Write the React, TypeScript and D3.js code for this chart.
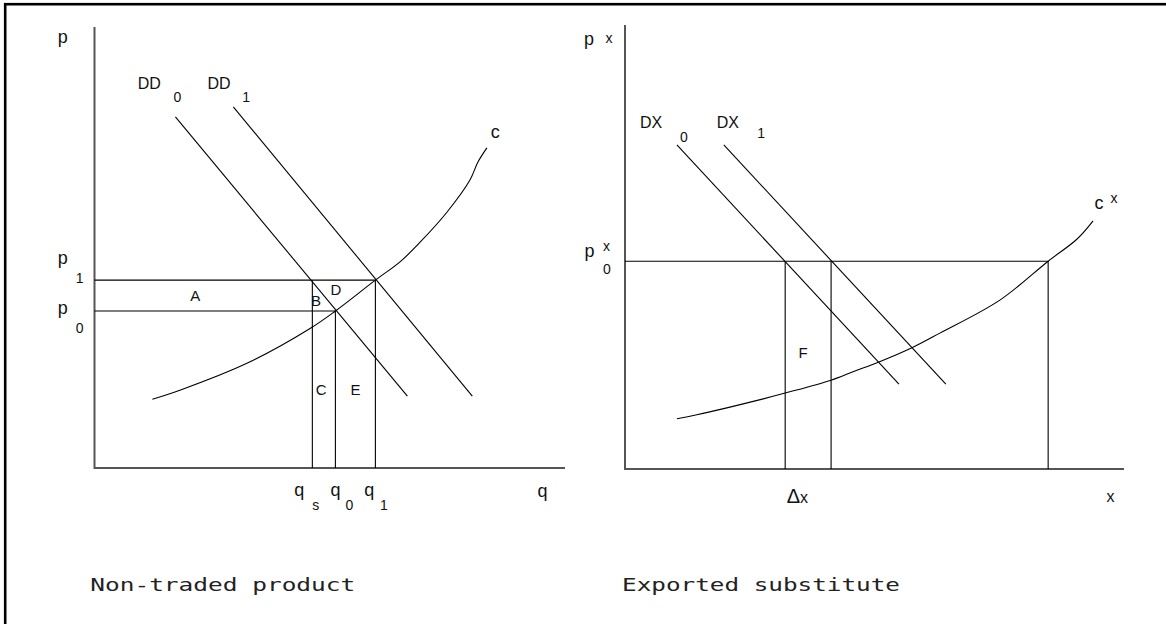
import React from "react";
import * as d3 from "d3";

// ---------- Left panel: non-traded product ----------
const ddNames = ["DD", "DD"];
const ddSubs = ["0", "1"];
const dd0: [number, number][] = [[17.2, 79.6], [66.5, 16.3]];
const dd1: [number, number][] = [[29.5, 81.9], [80.3, 16.3]];
const supplyC: [number, number][] = [
  [12.3, 15.6], [18.3, 17.7], [32.5, 23.8], [45.9, 31.7], [51.2, 35.6],
  [59.7, 42.6], [65.0, 46.8], [69.2, 51.2], [74.9, 58.0], [79.8, 65.3],
  [81.5, 69.4], [83.4, 72.6],
];
const pLevels = [35.6, 42.6]; // p0, p1
const qLevels = [46.3, 51.2, 59.7]; // qs, q0, q1
const qSubs = ["s", "0", "1"];
const qLabelX = [43.5, 51.2, 58.4];
const qSubX = [47.0, 54.2, 61.5];
const areaLabelsLeft: [string, number, number][] = [
  ["A", 21.4, 37.9], ["B", 47.1, 36.7], ["D", 51.3, 39.2], ["C", 48.2, 16.6], ["E", 55.5, 16.6],
];

// ---------- Right panel: exported substitute ----------
const dxNames = ["DX", "DX"];
const dx0: [number, number][] = [[10.4, 73.0], [54.9, 19.1]];
const dx1: [number, number][] = [[19.8, 73.0], [64.3, 19.1]];
const supplyCx: [number, number][] = [
  [10.4, 11.3], [14.4, 12.2], [27.7, 15.8], [32.1, 17.1], [41.3, 20.0],
  [45.7, 21.9], [50.9, 24.1], [57.5, 27.3], [63.1, 30.6], [75.2, 38.1],
  [84.8, 46.8], [90.6, 51.8], [93.8, 55.9],
];
const pxLevel = 46.8;
const xLevels = [32.1, 41.3, 84.8];

const titles = ["Non-traded product", "Exported substitute"];
const titleWidths = [265, 278];

const W = 1166;
const H = 624;
const LBL = "'Liberation Sans', Arial, sans-serif";
const MONO = "'DejaVu Sans Mono', monospace";

export default function App() {
  const line = (x: any, y: any) =>
    d3.line<[number, number]>().x((d) => x(d[0])).y((d) => y(d[1]));
  const curve = (x: any, y: any) =>
    d3.line<[number, number]>().x((d) => x(d[0])).y((d) => y(d[1])).curve(d3.curveCatmullRom.alpha(0.5));

  const xl = d3.scaleLinear().domain([0, 100]).range([94.5, 565]);
  const yl = d3.scaleLinear().domain([0, 100]).range([468, 27]);
  const xr = d3.scaleLinear().domain([0, 100]).range([625, 1124]);
  const yr = d3.scaleLinear().domain([0, 100]).range([469, 25]);
  const Ll = line(xl, yl);
  const Lr = line(xr, yr);
  const Cl = curve(xl, yl);
  const Cr = curve(xr, yr);

  const axisStyle = { stroke: "#555", strokeWidth: 2, fill: "none" };
  const thin = { stroke: "#000", strokeWidth: 1.1, fill: "none" };
  const cap = { fontFamily: LBL, fontSize: 16, fill: "#111" } as any;
  const low = { fontFamily: LBL, fontSize: 18, fill: "#111" } as any;
  const sub = { fontFamily: LBL, fontSize: 14, fill: "#111" } as any;

  return (
    <svg
      width={W}
      height={H}
      style={{ position: "absolute", left: 0, top: 0, background: "#fff" }}
    >
      <rect x={5.2} y={4.2} width={W + 50} height={H + 50} fill="none" stroke="#000" strokeWidth={2.6} />

      {/* ----- Left panel ----- */}
      <path d={Ll([[0, 100], [0, 0], [100, 0]]) as string} {...axisStyle} />
      <path d={Ll(dd0) as string} {...thin} />
      <path d={Ll(dd1) as string} {...thin} />
      <path d={Cl(supplyC) as string} {...thin} />
      <path d={Ll([[0, pLevels[1]], [qLevels[2], pLevels[1]]]) as string} {...thin} />
      <path d={Ll([[0, pLevels[0]], [qLevels[1], pLevels[0]]]) as string} {...thin} />
      <path d={Ll([[qLevels[0], 0], [qLevels[0], pLevels[1]]]) as string} {...thin} />
      <path d={Ll([[qLevels[1], 0], [qLevels[1], pLevels[0]]]) as string} {...thin} />
      <path d={Ll([[qLevels[2], 0], [qLevels[2], pLevels[1]]]) as string} {...thin} />

      <text x={xl(-7.8)} y={yl(96.3)} {...low}>p</text>
      {ddNames.map((n, i) => (
        <g key={"dd" + i}>
          <text x={xl(i === 0 ? 9.2 : 24.0)} y={yl(85.9)} {...cap}>{n}</text>
          <text x={xl(i === 0 ? 16.8 : 31.4)} y={yl(83.1)} {...sub}>{ddSubs[i]}</text>
        </g>
      ))}
      <text x={xl(84.2)} y={yl(74.8)} {...low}>c</text>
      <text x={xl(-7.8)} y={yl(46.2)} {...low}>p</text>
      <text x={xl(-4.0)} y={yl(41.9)} {...sub}>1</text>
      <text x={xl(-7.8)} y={yl(34.9)} {...low}>p</text>
      <text x={xl(-4.0)} y={yl(30.6)} {...sub}>0</text>
      {areaLabelsLeft.map(([t, a, b]) => (
        <text key={t} x={xl(a)} y={yl(b)} {...cap} fontSize={15} textAnchor="middle">{t}</text>
      ))}
      {qLevels.map((q, i) => (
        <g key={"q" + i}>
          <text x={xl(qLabelX[i])} y={yl(-6.35)} {...low} textAnchor="middle">q</text>
          <text x={xl(qSubX[i])} y={yl(-9.5)} {...sub} textAnchor="middle">{qSubs[i]}</text>
        </g>
      ))}
      <text x={xl(95.2)} y={yl(-6.6)} {...low} textAnchor="middle">q</text>

      {/* ----- Right panel ----- */}
      <path d={Lr([[0, 100], [0, 0], [100, 0]]) as string} {...axisStyle} />
      <path d={Lr(dx0) as string} {...thin} />
      <path d={Lr(dx1) as string} {...thin} />
      <path d={Cr(supplyCx) as string} {...thin} />
      <path d={Lr([[0, pxLevel], [xLevels[2], pxLevel]]) as string} {...thin} />
      {xLevels.map((v, i) => (
        <path key={"xv" + i} d={Lr([[v, 0], [v, pxLevel]]) as string} {...thin} />
      ))}

      <text x={xr(-8.2)} y={yr(95.5)} {...low}>p</text>
      <text x={xr(-3.9)} y={yr(95.9)} {...sub}>x</text>
      {dxNames.map((n, i) => (
        <g key={"dx" + i}>
          <text x={xr(i === 0 ? 3.0 : 18.4)} y={yr(76.9)} {...cap}>{n}</text>
          <text x={xr(i === 0 ? 11.0 : 26.5)} y={yr(i === 0 ? 73.6 : 74.5)} {...sub}>{ddSubs[i]}</text>
        </g>
      ))}
      <text x={xr(94.1)} y={yr(58.6)} {...low}>c</text>
      <text x={xr(97.3)} y={yr(60.0)} {...sub}>x</text>
      <text x={xr(-8.1)} y={yr(47.7)} {...low}>p</text>
      <text x={xr(-4.4)} y={yr(49.0)} {...sub}>x</text>
      <text x={xr(-4.4)} y={yr(43.9)} {...sub}>0</text>
      <text x={xr(35.7)} y={yr(25.0)} {...cap} fontSize={15} textAnchor="middle">F</text>
      <text x={xr(32.4)} y={yr(-7.6)} {...cap}>
        <tspan fontSize={20}>Δ</tspan>
        <tspan fontSize={16}>x</tspan>
      </text>
      <text x={xr(97.3)} y={yr(-7.4)} {...cap} textAnchor="middle">x</text>

      {/* ----- Titles ----- */}
      {titles.map((t, i) => (
        <text
          key={t}
          x={i === 0 ? xl(-0.9) : xr(-0.6)}
          y={591}
          fontFamily={MONO}
          fontSize={17}
          fill="#222"
          textLength={titleWidths[i]}
          lengthAdjust="spacingAndGlyphs"
        >
          {t}
        </text>
      ))}
    </svg>
  );
}
